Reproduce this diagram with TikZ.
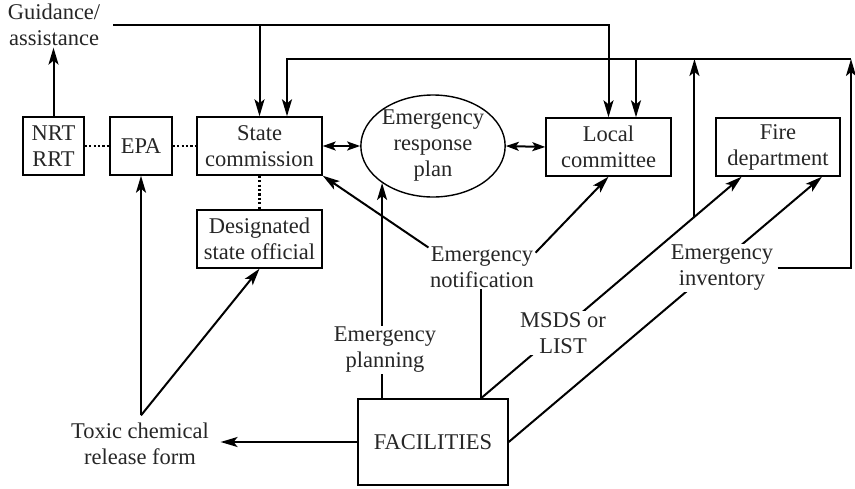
\documentclass[tikz,border=0pt]{standalone}
\usepackage{fontspec}
\setmainfont{Liberation Serif}
\usetikzlibrary{arrows.meta,calc,shapes.geometric}
\begin{document}
\begin{tikzpicture}[x=1pt,y=-1pt,
  every node/.style={font=\fontsize{22.5}{26}\selectfont,text=black!85},
  box/.style={draw,line width=1.4pt,align=center,inner sep=0pt},
  lbl/.style={align=center,inner sep=1.5pt},
  wlbl/.style={align=center,inner sep=1.5pt,fill=white},
  con/.style={line width=2pt},
  arr/.style={line width=2pt,-{Stealth[length=17pt,width=10pt,inset=4pt]}},
  darr/.style={line width=2pt,{Stealth[length=13pt,width=9pt,inset=3pt]}-{Stealth[length=13pt,width=9pt,inset=3pt]}},
  dot/.style={line width=2.2pt,dash pattern=on 2.2pt off 2.2pt}]
\useasboundingbox (0,0) rectangle (855,488);
% boxes
\node[box,minimum width=61pt,minimum height=58pt] (nrt) at (53.5,146) {NRT\\RRT};
\node[box,minimum width=62pt,minimum height=58pt] (epa) at (141,146) {EPA};
\node[box,minimum width=125pt,minimum height=58pt] (state) at (259.5,146) {State\\commission};
\node[draw,ellipse,line width=1.4pt,align=center,inner sep=0pt,minimum width=134pt,minimum height=102pt] (ell) at (433,146) {Emergency\\response\\plan};
\node[box,minimum width=125pt,minimum height=58pt] (local) at (608.5,147) {Local\\committee};
\node[box,minimum width=124pt,minimum height=58pt] (fire) at (778,147) {Fire\\department};
\node[box,minimum width=125pt,minimum height=58pt] (des) at (259.5,239) {Designated\\state official};
\node[box,minimum width=150pt,minimum height=86pt] (fac) at (433,442) {FACILITIES};
% plain labels
\node[lbl] (guid) at (54,25) {Guidance/\\assistance};
\node[lbl] (notif) at (482,267) {Emergency\\notification};
\node[lbl] (tox) at (140,444) {Toxic chemical\\release form};
% coordinates
\coordinate (cT) at (113,25);
\coordinate (cR) at (851,59);
\coordinate (ft) at ([xshift=48pt]fac.north);
\coordinate (fireT) at ($(fire.south west)!0.21!(fire.south east)$);
\coordinate (jn) at ($(ft)!0.819!(fireT)$);
% dotted links
\draw[dot] (nrt.east) -- (epa.west);
\draw[dot] (epa.east) -- (state.west);
\draw[dot] (state.south) -- (des.north);
% double arrows
\draw[darr] (state.east) -- (ell.west);
\draw[darr] (ell.east) -- (local.west);
% guidance
\draw[arr] (nrt.north) -- (nrt.north |- guid.south);
\draw[arr] (cT) -| (local.north);
\draw[arr] (state.north |- cT) -- (state.north);
% long loop
\draw[arr] (cR) -| ([xshift=27.5pt]state.north);
\draw[arr] ([xshift=27.5pt]local.north |- cR) -- ([xshift=27.5pt]local.north);
% lines passing under labels
\draw[arr] (fac.north -| ell.216) -- (ell.216);
\draw[arr] (ft) -- (fireT);
\draw[arr] (fac.east) -- ([xshift=44pt]fire.south);
\draw[arr] (jn) -- (jn |- cR);
\node[wlbl] (plan) at (385,350) {Emergency\\planning};
\node[wlbl] (msds) at (563,333) {MSDS or\\LIST};
\node[wlbl] (inv) at (722,268) {Emergency\\inventory};
\draw[arr] ([xshift=3pt]inv.east) -| (cR);
% notification
\draw[con] (ft) -- (ft |- notif.south);
\draw[arr] (notif.160) -- (state.south east);
\draw[arr] (notif.15) -- (local.south);
% toxic
\draw[arr] (fac.west) -- ([xshift=10pt]tox.east |- fac.west);
\draw[arr] ([yshift=6pt]tox.north -| epa.south) -- (epa.south);
\draw[arr] ([yshift=6pt]tox.north -| epa.south) -- (des.south);
\end{tikzpicture}
\end{document}
